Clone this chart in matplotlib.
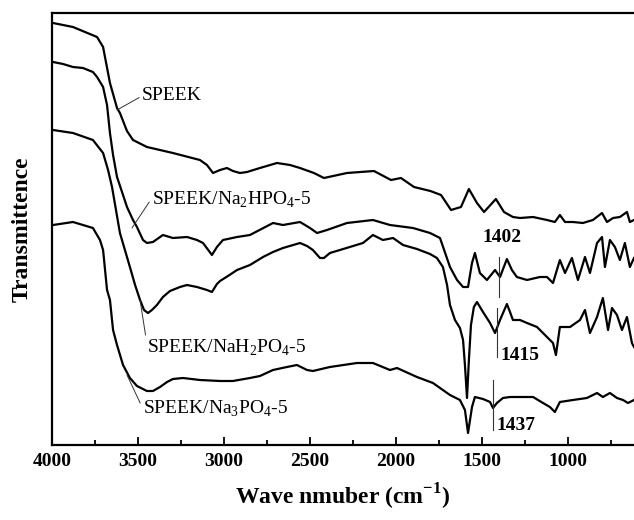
import matplotlib
matplotlib.use('Agg')
import matplotlib.pyplot as plt
from matplotlib.ticker import MultipleLocator

plt.rcParams['font.family'] = ['Liberation Serif', 'DejaVu Serif']
plt.rcParams['mathtext.fontset'] = 'custom'
plt.rcParams['mathtext.rm'] = 'Liberation Serif'

# FTIR spectra (wavenumber in cm-1, transmittance in arbitrary offset units)
speek_wn = [3994, 3878, 3738, 3703, 3663, 3622, 3605, 3564, 3529, 3448, 3297, 3140, 3099,
            3064, 3023, 2983, 2948, 2907, 2866, 2791, 2692, 2616, 2558, 2477, 2419, 2285,
            2128, 2029, 1971, 1895, 1800, 1738, 1680, 1622, 1576, 1529, 1488, 1419, 1372,
            1320, 1279, 1203, 1122, 1076, 1047, 1017, 971, 913, 855, 802, 773, 738, 698,
            657, 640, 616]
speek_t = [422, 418, 408, 398, 362, 337, 332, 314, 305, 298, 292, 285, 280,
           272, 275, 277, 274, 272, 273, 277, 282, 280, 277, 272, 267, 272,
           274, 265, 267, 258, 254, 250, 235, 238, 256, 242, 233, 246, 233,
           228, 227, 228, 225, 223, 230, 223, 223, 222, 225, 232, 223, 227, 228,
           233, 223, 225]

hpo_wn = [3994, 3936, 3878, 3820, 3762, 3738, 3703, 3680, 3663, 3645, 3622, 3587, 3564,
          3529, 3506, 3471, 3448, 3413, 3355, 3297, 3215, 3157, 3122, 3070, 3041, 3006,
          2924, 2849, 2715, 2657, 2558, 2500, 2459, 2401, 2285, 2134, 2035, 1901, 1802,
          1744, 1686, 1645, 1610, 1581, 1558, 1541, 1512, 1471, 1424, 1395, 1355, 1326,
          1297, 1238, 1163, 1122, 1087, 1047, 1017, 977, 942, 901, 872, 831, 802, 785,
          756, 727, 698, 669, 640, 616]
hpo_t = [383, 381, 378, 377, 373, 368, 358, 340, 312, 290, 268, 250, 238,
         225, 218, 205, 202, 203, 210, 207, 208, 205, 202, 190, 198, 205,
         208, 210, 222, 220, 223, 217, 212, 215, 222, 225, 220, 217, 212,
         207, 178, 165, 158, 158, 182, 192, 172, 165, 175, 168, 186, 175,
         168, 165, 168, 168, 162, 185, 172, 187, 165, 188, 172, 202, 208, 178,
         205, 198, 185, 202, 178, 187]

h2po_wn = [3994, 3878, 3762, 3703, 3674, 3651, 3628, 3605, 3576, 3547, 3517, 3488, 3465,
           3442, 3419, 3390, 3355, 3314, 3256, 3215, 3157, 3099, 3070, 3041, 3023, 2977,
           2924, 2849, 2773, 2715, 2657, 2558, 2517, 2483, 2442, 2419, 2384, 2326, 2192,
           2134, 2076, 2017, 1959, 1878, 1802, 1762, 1727, 1703, 1686, 1657, 1628, 1610,
           1599, 1587, 1576, 1564, 1547, 1529, 1494, 1453, 1424, 1395, 1355, 1337, 1320,
           1279, 1238, 1180, 1122, 1087, 1070, 1047, 988, 930, 901, 872, 831, 797, 767,
           744, 715, 686, 657, 628, 616]
h2po_t = [315, 312, 305, 292, 275, 258, 235, 212, 195, 178, 160, 145, 135,
          132, 135, 140, 148, 154, 158, 160, 158, 155, 153, 161, 164, 169,
          175, 180, 188, 193, 197, 202, 199, 195, 187, 187, 192, 195, 202,
          210, 205, 207, 200, 196, 191, 187, 178, 160, 140, 125, 117, 105,
          80, 47, 85, 120, 138, 143, 133, 122, 112, 125, 141, 133, 125,
          125, 122, 118, 108, 102, 90, 118, 118, 125, 135, 112, 128, 147, 115,
          137, 130, 115, 128, 102, 98]

po_wn = [3994, 3878, 3762, 3721, 3703, 3680, 3663, 3645, 3622, 3587, 3547, 3506, 3448,
         3413, 3372, 3331, 3297, 3238, 3140, 3023, 2948, 2849, 2791, 2715, 2634, 2576,
         2517, 2483, 2384, 2227, 2134, 2035, 1994, 1878, 1785, 1686, 1628, 1599, 1581,
         1558, 1541, 1494, 1453, 1436, 1413, 1378, 1337, 1262, 1203, 1145, 1105, 1076,
         1047, 971, 890, 831, 797, 756, 715, 680, 651, 616]
po_t = [220, 223, 217, 205, 195, 155, 145, 115, 100, 80, 67, 59, 54,
        54, 58, 63, 66, 67, 65, 64, 64, 67, 69, 75, 78, 80,
        75, 74, 78, 82, 82, 75, 77, 68, 62, 50, 45, 35, 12,
        38, 48, 46, 43, 37, 42, 47, 48, 48, 48, 42, 38, 33,
        43, 45, 47, 52, 48, 52, 47, 45, 42, 45]

xticks = [4000, 3500, 3000, 2500, 2000, 1500, 1000]

fig = plt.figure(figsize=(6.34, 5.2), dpi=100)
ax = fig.add_axes([52 / 634, 75 / 520, 582 / 634, 432 / 520])

for wn, t in [(speek_wn, speek_t), (hpo_wn, hpo_t), (h2po_wn, h2po_t), (po_wn, po_t)]:
    ax.plot(wn, t, color='black', lw=1.6, solid_joinstyle='round')

ax.set_xlim(4000, 616)
ax.set_ylim(0, 432)
ax.set_xticks(xticks)
ax.xaxis.set_minor_locator(MultipleLocator(250))
ax.set_yticks([])
ax.tick_params(axis='x', which='both', direction='in', width=1.3, pad=6,
               labelsize=14)
ax.tick_params(axis='x', which='major', length=6)
ax.tick_params(axis='x', which='minor', length=3.5)
for lab in ax.get_xticklabels():
    lab.set_fontweight('bold')
for side in ['left', 'bottom', 'top']:
    ax.spines[side].set_linewidth(1.6)
ax.spines['right'].set_visible(False)

ax.set_xlabel('Wave nmuber (cm$^{\\mathregular{-1}}$)', fontsize=17,
              fontweight='bold', labelpad=8)
ax.set_ylabel('Transmittence', fontsize=17, fontweight='bold', labelpad=14)

# curve labels with leader lines
lead = dict(arrowstyle='-', lw=0.7, color='#333333', shrinkA=0, shrinkB=0)
ax.annotate('SPEEK', xy=(3622, 335), xytext=(3477, 349), fontsize=14,
            ha='left', va='center', arrowprops=dict(lead, relpos=(0, 0.5)))
ax.annotate('SPEEK/Na$_\\mathregular{2}$HPO$_\\mathregular{4}$-5', xy=(3535, 217),
            xytext=(3419, 245), fontsize=14, ha='left', va='center',
            arrowprops=dict(lead, relpos=(0, 0.6)))
ax.annotate('SPEEK/NaH$_\\mathregular{2}$PO$_\\mathregular{4}$-5', xy=(3488, 145),
            xytext=(3448, 97), fontsize=14, ha='left', va='center',
            arrowprops=dict(lead, relpos=(0, 0.7)))
ax.annotate('SPEEK/Na$_\\mathregular{3}$PO$_\\mathregular{4}$-5', xy=(3564, 70),
            xytext=(3471, 36), fontsize=14, ha='left', va='center',
            arrowprops=dict(lead, relpos=(0, 0.5)))

# peak markers
ax.plot([1402, 1402], [148, 188], color='#333333', lw=0.8)
ax.plot([1415, 1415], [88, 137], color='#333333', lw=0.8)
ax.plot([1437, 1437], [15, 65], color='#333333', lw=0.8)
ax.text(1384, 208, '1402', fontsize=14, fontweight='bold', ha='center', va='center')
ax.text(1279, 90, '1415', fontsize=14, fontweight='bold', ha='center', va='center')
ax.text(1302, 20, '1437', fontsize=14, fontweight='bold', ha='center', va='center')

fig.savefig('out.png', dpi=100)
